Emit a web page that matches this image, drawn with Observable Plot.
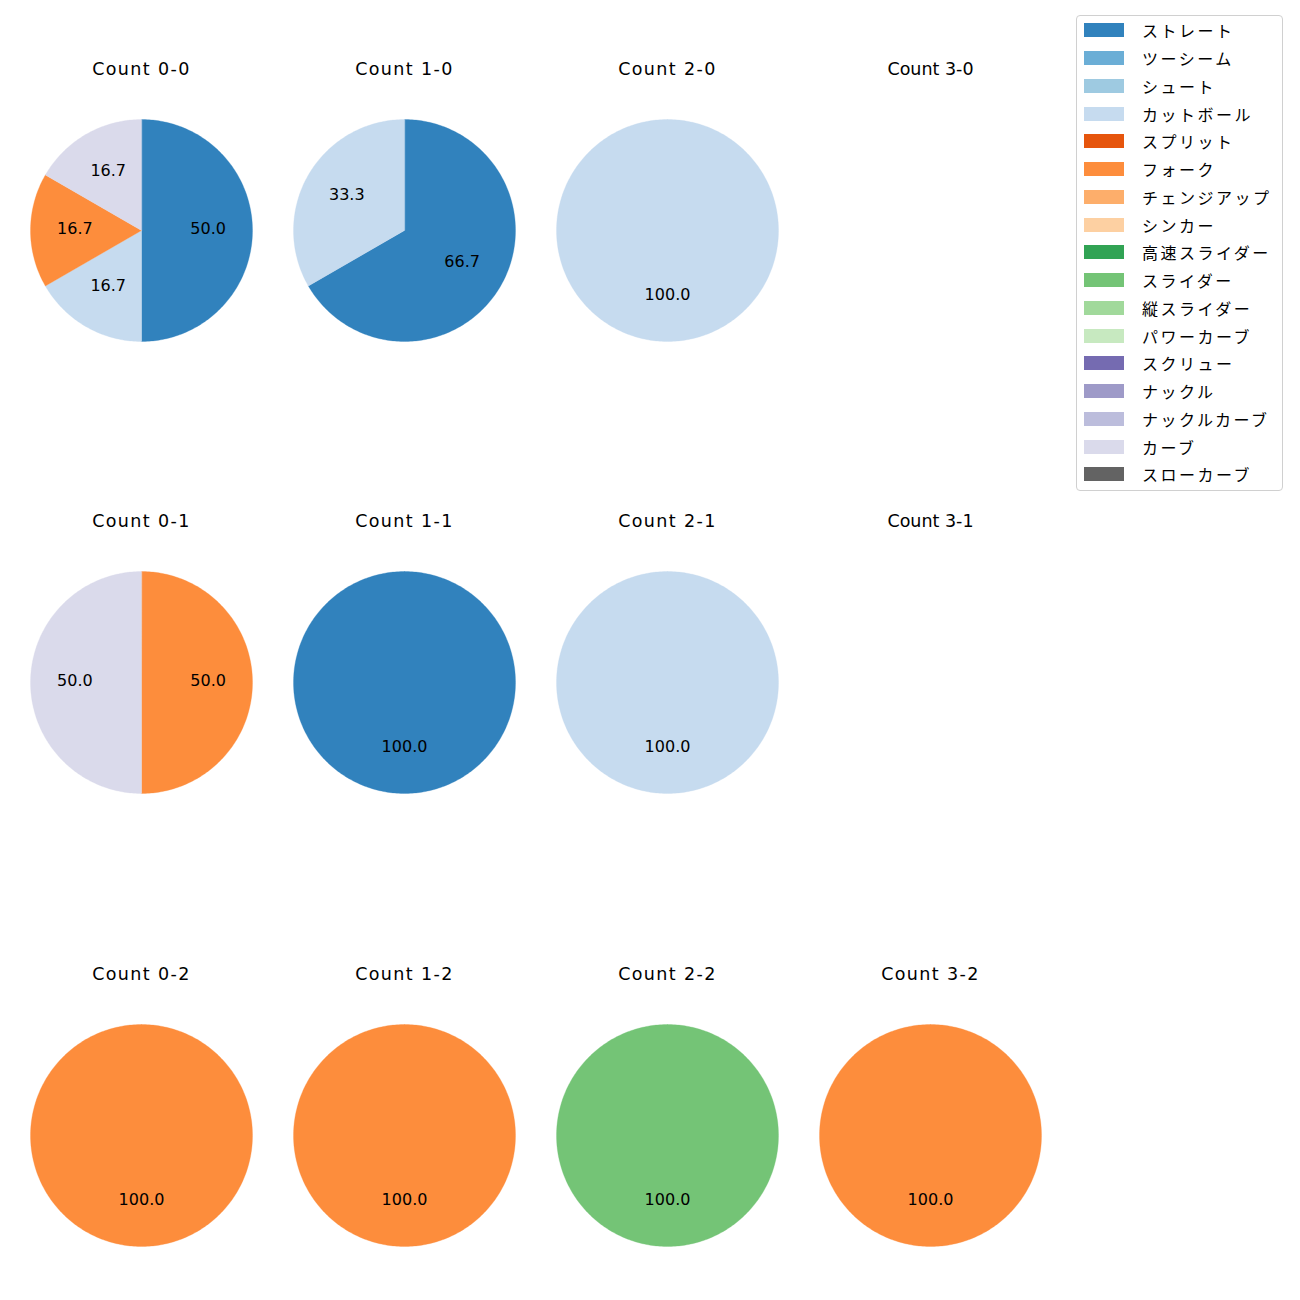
<!DOCTYPE html>
<html>
<head>
<meta charset="utf-8">
<script src="https://cdn.jsdelivr.net/npm/d3@7"></script>
<script src="https://cdn.jsdelivr.net/npm/@observablehq/plot@0.6"></script>
<style>
  body { margin: 0; background: #fff; }
  #fig { position: relative; width: 1300px; height: 1300px; font-family: "Noto Sans CJK JP", "Noto Sans", sans-serif; }
  .panel { position: absolute; }
  #legend { position: absolute; left: 1076px; top: 15px; width: 207px; height: 476px; border: 1px solid #d0d0d0; border-radius: 4px; box-sizing: border-box; background: #fff; }
  .item { position: absolute; left: 7px; height: 20px; display: flex; align-items: center; font-size: 16px; letter-spacing: 2.5px; color: #000; white-space: nowrap; }
  .sw { width: 40px; height: 14px; margin-right: 18px; }
</style>
</head>
<body>
<div id="fig"></div>
<script>
// Pitch types (legend order) and their colours
const pitchTypes = ["ストレート","ツーシーム","シュート","カットボール","スプリット","フォーク","チェンジアップ","シンカー","高速スライダー","スライダー","縦スライダー","パワーカーブ","スクリュー","ナックル","ナックルカーブ","カーブ","スローカーブ"];
const pitchColors = ["#3182bd","#6baed6","#9ecae1","#c6dbef","#e6550d","#fd8d3c","#fdae6b","#fdd0a2","#31a354","#74c476","#a1d99b","#c7e9c0","#756bb1","#9e9ac8","#bcbddc","#dadaeb","#636363"];

// Panels (row-major: balls 0-3 across, strikes 0-2 down)
const panelTitles = ["Count 0-0","Count 1-0","Count 2-0","Count 3-0",
                     "Count 0-1","Count 1-1","Count 2-1","Count 3-1",
                     "Count 0-2","Count 1-2","Count 2-2","Count 3-2"];
const panelPitches = [
  ["ストレート","カットボール","フォーク","カーブ"],
  ["ストレート","カットボール"],
  ["カットボール"],
  [],
  ["フォーク","カーブ"],
  ["ストレート"],
  ["カットボール"],
  [],
  ["フォーク"],
  ["フォーク"],
  ["スライダー"],
  ["フォーク"]
];
const panelCounts = [
  [3,1,1,1],
  [2,1],
  [1],
  [],
  [1,1],
  [1],
  [1],
  [],
  [1],
  [1],
  [1],
  [1]
];

const fig = document.getElementById("fig");
const R = 111;          // pie radius in px
const W = 250, H = 300; // panel svg size
const CX = 125, CY = 175; // pie centre within panel svg

panelTitles.forEach((title, i) => {
  const col = i % 4, row = Math.floor(i / 4);
  const centreX = 141.3 + 263 * col;
  const centreY = 229.8 + 452.5 * row;
  const total = d3.sum(panelCounts[i]);
  // wedges: clockwise from 12 o'clock
  const poly = [];
  const labels = [];
  let acc = 0;
  panelPitches[i].forEach((p, j) => {
    const frac = panelCounts[i][j] / total;
    const a0 = Math.PI / 2 - acc * 2 * Math.PI;
    const a1 = Math.PI / 2 - (acc + frac) * 2 * Math.PI;
    const n = Math.max(2, Math.ceil(frac * 360));
    if (frac < 1) poly.push({key: j, pitch: p, x: 0, y: 0});
    for (let k = 0; k <= n; k++) {
      const a = a0 + (a1 - a0) * k / n;
      poly.push({key: j, pitch: p, x: Math.cos(a), y: Math.sin(a)});
    }
    const am = (a0 + a1) / 2;
    labels.push({x: 0.6 * Math.cos(am), y: 0.6 * Math.sin(am), text: (frac * 100).toFixed(1)});
    acc += frac;
  });

  const chart = Plot.plot({
    width: W, height: H,
    margin: 0,
    style: {background: "transparent", fontFamily: "'DejaVu Sans', sans-serif"},
    x: {domain: [-CX / R, (W - CX) / R], range: [0, W], axis: null},
    y: {domain: [-(H - CY) / R, CY / R], range: [H, 0], axis: null},
    color: {domain: pitchTypes, range: pitchColors},
    marks: [
      Plot.line(poly, {x: "x", y: "y", z: "key", fill: "pitch", stroke: "pitch", strokeWidth: 0.3, curve: "linear-closed"}),
      Plot.text(labels, {x: "x", y: "y", text: "text", fontSize: 16, dy: -2, fill: "#000"}),
      Plot.text([title], {frameAnchor: "top", lineAnchor: "middle", text: d => d, fontSize: 17.5, fill: "#000", dy: 14})
    ]
  });
  const textGroups = chart.querySelectorAll("g[aria-label='text']");
  if (textGroups[1]) textGroups[1].style.letterSpacing = "1.4px";
  const div = document.createElement("div");
  div.className = "panel";
  div.style.left = (centreX - CX) + "px";
  div.style.top = (centreY - CY) + "px";
  div.appendChild(chart);
  fig.appendChild(div);
});

// Legend
const legend = document.createElement("div");
legend.id = "legend";
pitchTypes.forEach((p, k) => {
  const it = document.createElement("div");
  it.className = "item";
  it.style.top = (29.3 - 15 - 10 + 27.75 * k) + "px";
  const sw = document.createElement("div");
  sw.className = "sw";
  sw.style.background = pitchColors[k];
  const t = document.createElement("span");
  t.textContent = p;
  it.appendChild(sw); it.appendChild(t);
  legend.appendChild(it);
});
fig.appendChild(legend);
</script>
</body>
</html>
